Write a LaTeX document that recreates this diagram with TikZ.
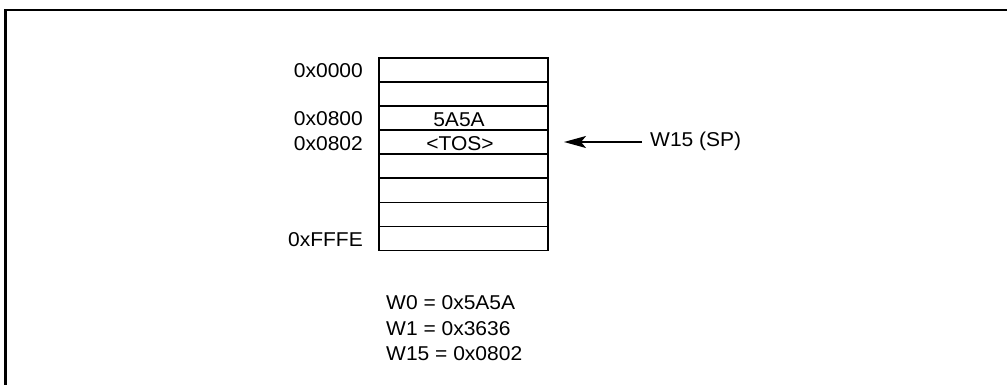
\documentclass[tikz,border=0pt]{standalone}
\usepackage{fontspec}
\setmainfont{Liberation Sans}[FakeStretch=1.05]
\usetikzlibrary{arrows.meta}
\begin{document}
\begin{tikzpicture}[x=1pt,y=-1pt,
  cell/.style={draw, line width=1.8pt, minimum width=169pt, minimum height=24pt, inner sep=0pt, anchor=north west},
  lbl/.style={font=\fontsize{20}{24}\selectfont, inner sep=0pt},
  frame/.style={line width=2.2pt},
  ptr/.style={line width=1.6pt, -{Stealth[length=22pt,width=12pt,inset=5pt]}}
]
\useasboundingbox (0,0) rectangle (1007,385);
\draw[frame] (5.5,385) -- (5.5,10) -- (1007,10);
\foreach \i in {1,...,8} \node[cell] (r\i) at (378,{57.5+24*(\i-1)}) {};
\node[lbl, anchor=base east] (a0) at (363,78) {0x0000};
\node[lbl, anchor=base east] (a1) at (363,126) {0x0800};
\node[lbl, anchor=base east] (a2) at (363,150) {0x0802};
\node[lbl, anchor=base east] (a3) at (363,246) {0xFFFE};
\node[lbl, anchor=base] (v1) at (459,127) {5A5A};
\node[lbl, anchor=base] (v2) at (460,151) {<TOS>};
\node[lbl, anchor=base west] (sp) at (650,147) {W15 (SP)};
\coordinate (tail) at (642,142);
\coordinate (tip) at (564,142);
\draw[ptr] (tail) -- (tip);
\node[lbl, anchor=base west] (w0) at (386,309) {W0 = 0x5A5A};
\node[lbl, anchor=base west] (w1) at (386,335) {W1 = 0x3636};
\node[lbl, anchor=base west] (w15) at (386,360) {W15 = 0x0802};
\end{tikzpicture}
\end{document}
